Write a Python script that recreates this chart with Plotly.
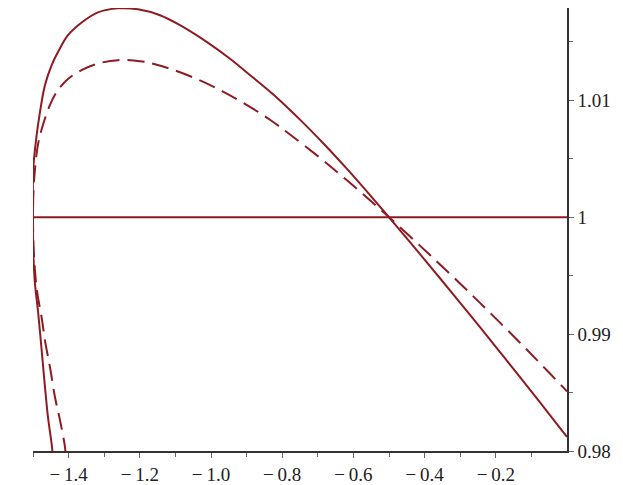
import plotly.graph_objects as go

# solid curve (bottom-left branch, up round the peak, down to x=0)
solid_x = [-1.4450, -1.4466, -1.4579, -1.4663, -1.4756, -1.4860, -1.4944, -1.4992, -1.5000,
           -1.4992, -1.4896, -1.4803, -1.4663, -1.4475, -1.4298, -1.4017, -1.3624, -1.3174,
           -1.2612, -1.2051, -1.1433, -1.0871, -1.0112, -0.9466, -0.8820, -0.8258, -0.7781,
           -0.7500, -0.6854, -0.6180, -0.5618, -0.5000, -0.4635, -0.4129, -0.3567, -0.3006,
           -0.2444, -0.1882, -0.1320, -0.0758, -0.0112, 0.0000]
solid_y = [0.97970, 0.98034, 0.98289, 0.98545, 0.98860, 0.99200, 0.99430, 0.99711, 1.00000,
           1.00417, 1.00706, 1.00902, 1.01132, 1.01302, 1.01413, 1.01557, 1.01668, 1.01753,
           1.01787, 1.01779, 1.01728, 1.01643, 1.01498, 1.01356, 1.01195, 1.01052, 1.00918,
           1.00835, 1.00635, 1.00413, 1.00219, 1.00000, 0.99868, 0.99684, 0.99478, 0.99270,
           0.99059, 0.98846, 0.98632, 0.98415, 0.98164, 0.98120]

# dashed curve
dash_x = [-1.4085, -1.4101, -1.4242, -1.4382, -1.4522, -1.4663, -1.4756, -1.4888, -1.4972,
          -1.5000, -1.4972, -1.4860, -1.4719, -1.4522, -1.4298, -1.4017, -1.3624, -1.3174,
          -1.2612, -1.1994, -1.1629, -1.1067, -1.0309, -0.9663, -0.8989, -0.8343, -0.7781,
          -0.6938, -0.6376, -0.5815, -0.5337, -0.5000, -0.3848, -0.3567, -0.3006, -0.2444,
          -0.1882, -0.1320, -0.0758, -0.0112, 0.0000]
dash_y = [0.97970, 0.98034, 0.98264, 0.98460, 0.98715, 0.98945, 0.99140, 0.99370, 0.99668,
          1.00000, 1.00306, 1.00621, 1.00791, 1.00962, 1.01089, 1.01183, 1.01260, 1.01315,
          1.01344, 1.01335, 1.01313, 1.01262, 1.01171, 1.01075, 1.00960, 1.00834, 1.00708,
          1.00508, 1.00366, 1.00220, 1.00091, 1.00000, 0.99677, 0.99596, 0.99433, 0.99267,
          0.99098, 0.98926, 0.98751, 0.98546, 0.98510]

hline_x = [-1.5, 0.0]
hline_y = [1.0, 1.0]

x_ticks = [-1.4, -1.2, -1.0, -0.8, -0.6, -0.4, -0.2]
x_labels = ["\u2212\u20091.4", "\u2212\u20091.2", "\u2212\u20091.0", "\u2212\u20090.8",
            "\u2212\u20090.6", "\u2212\u20090.4", "\u2212\u20090.2"]
x_minor = [-1.5, -1.3, -1.1, -0.9, -0.7, -0.5, -0.3, -0.1]
y_ticks = [0.98, 0.99, 1.0, 1.01]
y_labels = ["0.98", "0.99", "1", "1.01"]
y_minor = [0.985, 0.995, 1.005, 1.015]

red = "#8e1b22"

fig = go.Figure()
fig.add_trace(go.Scatter(x=hline_x, y=hline_y, mode="lines",
                         line=dict(color=red, width=2)))
fig.add_trace(go.Scatter(x=dash_x, y=dash_y, mode="lines",
                         line=dict(color=red, width=2, dash="17px,8px", shape="spline")))
fig.add_trace(go.Scatter(x=solid_x, y=solid_y, mode="lines",
                         line=dict(color=red, width=2, shape="spline")))

# page body has an 8px margin, so the figure is shifted by that much
fig.update_layout(
    width=615, height=477,
    margin=dict(l=25, r=56, t=0, b=34),
    paper_bgcolor="white", plot_bgcolor="white",
    showlegend=False,
    font=dict(family="Liberation Serif, Times New Roman, serif", size=19, color="#222"),
)
fig.update_xaxes(
    range=[-1.5, 0.0], showgrid=False, zeroline=False,
    showline=True, linecolor="#333", linewidth=1.5,
    tickmode="array", tickvals=x_ticks, ticktext=x_labels,
    ticks="outside", ticklen=5, tickcolor="#666",
    minor=dict(tickmode="array", tickvals=x_minor, ticks="outside", ticklen=4, tickcolor="#666"),
)
fig.update_yaxes(
    range=[0.98, 1.0179], side="right", showgrid=False, zeroline=False,
    showline=True, linecolor="#333", linewidth=1.5,
    tickmode="array", tickvals=y_ticks, ticktext=y_labels,
    ticks="outside", ticklen=5, tickcolor="#666",
    minor=dict(tickmode="array", tickvals=y_minor, ticks="outside", ticklen=4, tickcolor="#666"),
)

fig.write_html("out.html")
